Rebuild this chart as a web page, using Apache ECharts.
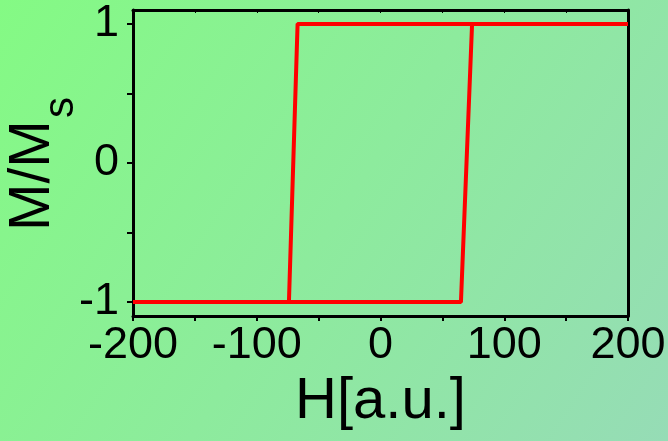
<!DOCTYPE html>
<html><head><meta charset="utf-8">
<script src="https://cdn.jsdelivr.net/npm/echarts@6/dist/echarts.min.js"></script>
<style>html,body{margin:0;padding:0;}#c{width:668px;height:441px;}</style>
</head><body><div id="c"></div>
<script>
// Hysteresis loop data (H, M/Ms)
const loopH = [-200, 65, 74, 200, -67, -74, -200];
const loopM = [-1, -1, 1, 1, 1, -1, -1];
const xTickLabels = [-200, -100, 0, 100, 200];
const xTicks = [-200, -150, -100, -50, 0, 50, 100, 150, 200];
const yTickLabels = [-1, 0, 1];
const yTicks = [-1, -0.5, 0, 0.5, 1];
const yTitleMain = 'M/M';
const yTitleSub = 's';

const data = loopH.map((h, i) => [h, loopM[i]]);
const chart = echarts.init(document.getElementById('c'), null, {renderer: 'canvas'});
const font = 'Liberation Sans, Arial, sans-serif';
chart.setOption({
  backgroundColor: new echarts.graphic.LinearGradient(0, 0, 1, 1, [
    {offset: 0, color: '#84fa84'},
    {offset: 1, color: '#96dcb6'}
  ]),
  animation: false,
  grid: {left: 133, right: 40, top: 10, bottom: 125, containLabel: false, outerBoundsMode: 'none'},
  graphic: [{
    type: 'group', x: 0, y: 228, rotation: Math.PI / 2,
    children: [{
      type: 'text', x: -3, y: 33.5,
      style: {text: yTitleMain, fill: '#000', font: '57px ' + font, align: 'left', verticalAlign: 'middle'}
    }, {
      type: 'text', x: 110, y: 61,
      style: {text: yTitleSub, fill: '#000', font: '42px ' + font, align: 'left', verticalAlign: 'middle'}
    }]
  }],
  xAxis: [{
    type: 'value', min: -200, max: 200, position: 'bottom',
    axisLine: {show: true, onZero: false, lineStyle: {color: '#000', width: 3}},
    axisTick: {show: true, inside: false, length: 5, customValues: xTicks, lineStyle: {color: '#000', width: 2}},
    axisLabel: {customValues: xTickLabels, margin: 7, color: '#000', fontSize: 45, fontFamily: font},
    splitLine: {show: false},
    name: 'H[a.u.]', nameLocation: 'middle', nameGap: 56,
    nameTextStyle: {color: '#000', fontSize: 58, fontFamily: font}
  }, {
    type: 'value', min: -200, max: 200, position: 'top',
    axisLine: {show: true, onZero: false, lineStyle: {color: '#000', width: 3}},
    axisTick: {show: true, inside: true, length: 3, customValues: xTicks, lineStyle: {color: '#000', width: 1}},
    axisLabel: {show: false}, splitLine: {show: false}
  }],
  yAxis: [{
    type: 'value', min: -1.1, max: 1.1, position: 'left',
    axisLine: {show: true, onZero: false, lineStyle: {color: '#000', width: 3}},
    axisTick: {show: true, inside: false, length: 6, customValues: yTicks, lineStyle: {color: '#000', width: 2}},
    axisLabel: {customValues: yTickLabels, margin: 14, color: '#000', fontSize: 45, fontFamily: font},
    splitLine: {show: false}
  }, {
    type: 'value', min: -1.1, max: 1.1, position: 'right',
    axisLine: {show: true, onZero: false, lineStyle: {color: '#000', width: 3}},
    axisTick: {show: false}, axisLabel: {show: false}, splitLine: {show: false}
  }],
  series: [{
    type: 'line', data: data, showSymbol: false, symbol: 'none',
    lineStyle: {color: '#ff0000', width: 4}, z: 1
  }]
});
</script></body></html>
